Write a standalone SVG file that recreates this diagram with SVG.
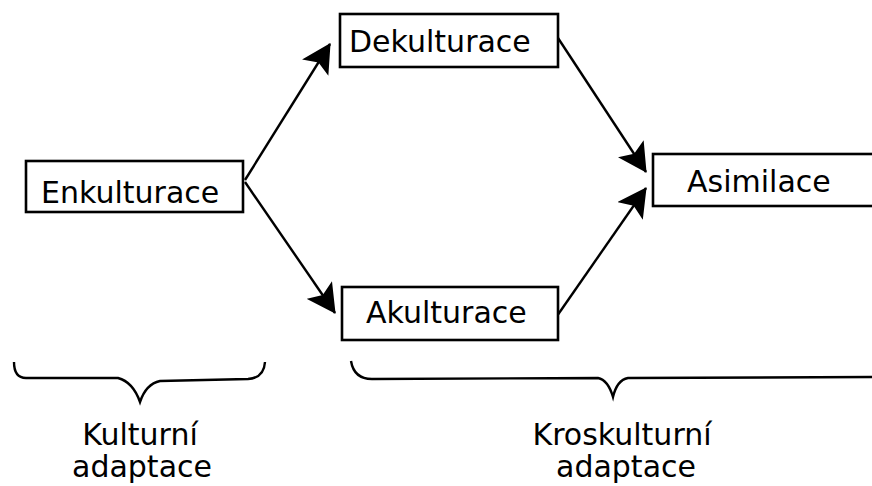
<svg xmlns="http://www.w3.org/2000/svg" width="872" height="486" viewBox="0 0 872 486">
<style>
.box{fill:#fff;stroke:#000;stroke-width:2.6}
.lbl{font-family:"DejaVu Sans",sans-serif;font-size:30px;fill:#000}
.cap{font-family:"DejaVu Sans",sans-serif;font-size:30px;fill:#000;text-anchor:middle}
.con{fill:none;stroke:#000;stroke-width:2.4}
.brace{fill:none;stroke:#000;stroke-width:2.4}
</style>
<defs>
<marker id="ah" markerUnits="userSpaceOnUse" viewBox="0 0 28 30" markerWidth="29" markerHeight="31" refX="27" refY="15" orient="auto">
<path d="M28,15 L0,0 L6,15 L0,30 Z" fill="#000"/>
</marker>
</defs>
<rect width="872" height="486" fill="#fff"/>
<g id="connectors">
<line class="con" x1="245" y1="180" x2="330" y2="44" marker-end="url(#ah)"/>
<line class="con" x1="245" y1="182" x2="335" y2="313" marker-end="url(#ah)"/>
<line class="con" x1="558" y1="38" x2="646" y2="172" marker-end="url(#ah)"/>
<line class="con" x1="557" y1="316" x2="646" y2="188" marker-end="url(#ah)"/>
</g>
<g id="enkulturace">
<rect class="box" x="26" y="161" width="217" height="51"/>
<text class="lbl" x="41" y="203">Enkulturace</text>
</g>
<g id="dekulturace">
<rect class="box" x="340" y="14" width="218" height="53"/>
<text class="lbl" x="349" y="52">Dekulturace</text>
</g>
<g id="akulturace">
<rect class="box" x="342" y="287" width="216" height="53"/>
<text class="lbl" x="366" y="323">Akulturace</text>
</g>
<g id="asimilace">
<rect class="box" x="653" y="154" width="230" height="52"/>
<text class="lbl" x="687" y="192">Asimilace</text>
</g>
<g id="kulturni">
<path class="brace" d="M14,362 Q14,378 26,378 L118,378 Q133,382 140,402 Q146,384 160,381 L248,379 Q264,378 265,362"/>
<text class="cap" x="140" y="445">Kulturní</text>
<text class="cap" x="142" y="477">adaptace</text>
</g>
<g id="kroskulturni">
<path class="brace" d="M351,361 Q354,379 372,379 L598,378 Q608,380 613,397 Q617,380 628,378 L872,377"/>
<text class="cap" x="622" y="445">Kroskulturní</text>
<text class="cap" x="626" y="477">adaptace</text>
</g>
</svg>
